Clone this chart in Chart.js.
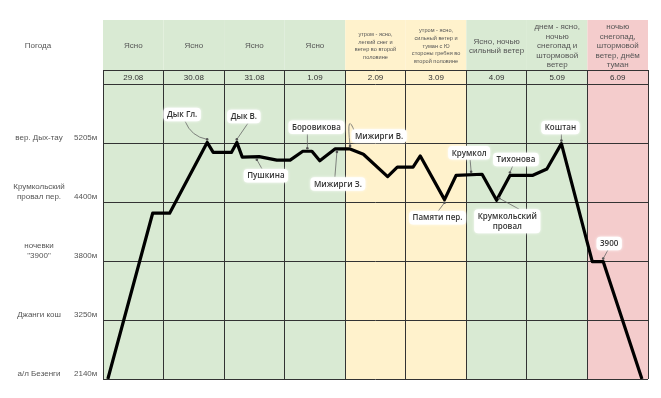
<!DOCTYPE html>
<html lang="ru">
<head>
    <meta charset="UTF-8">
    <title>Маршрут Безенги</title>
    <script src="https://cdn.jsdelivr.net/npm/chart.js"></script>
    <style>
        body { margin: 0; background: #fff; }
        #wrap { width: 661px; height: 398px; }
    </style>
</head>
<body>
    <div id="wrap"><canvas id="routeChart" width="661" height="398"></canvas></div>

    <script>
        // дни похода и погода
        const days = ['29.08', '30.08', '31.08', '1.09', '2.09', '3.09', '4.09', '5.09', '6.09'];
        const weather = [
            'Ясно', 'Ясно', 'Ясно', 'Ясно',
            'утром - ясно,\nлегкий снег и\nветер во второй\nполовине',
            'утром - ясно,\nсильный ветер и\nтуман с Ю\nстороны гребня во\nвторой половине',
            'Ясно, ночью\nсильный ветер',
            'днем - ясно,\nночью\nснегопад и\nштормовой\nветер',
            'ночью\nснегопад,\nштормовой\nветер, днём\nтуман'
        ];
        const weatherType = ['good', 'good', 'good', 'good', 'mid', 'mid', 'good', 'good', 'bad'];

        // уровни высоты (ось Y)
        const levelHeights = ['2140м', '3250м', '3800м', '4400м', '5205м'];
        const levelNames = ['а/л Безенги', 'Джанги кош', 'ночевки\n"3900"', 'Крумкольский\nпровал пер.', 'вер. Дых-тау'];

        // профиль маршрута: день (дробный) и уровень
        const routeDay = [0.08, 0.82, 1.10, 1.72, 1.82, 2.12, 2.21, 2.30, 2.58, 2.87, 3.09, 3.30, 3.45, 3.58,
            3.83, 4.08, 4.30, 4.70, 4.86, 5.12, 5.24, 5.64, 5.83, 6.26, 6.50, 6.72, 7.09, 7.33, 7.57,
            8.08, 8.26, 8.90];
        const routeLevel = [0, 2.81, 2.81, 4.01, 3.84, 3.84, 4.01, 3.76, 3.77, 3.71, 3.71, 3.86, 3.86, 3.70,
            3.90, 3.90, 3.81, 3.43, 3.59, 3.59, 3.78, 3.04, 3.45, 3.47, 3.03, 3.45, 3.45, 3.56, 3.99,
            1.99, 1.99, 0];

        // подписи вершин и перевалов
        const markNames = ['Дык Гл.', 'Дык В.', 'Пушкина', 'Боровикова', 'Мижирги З.', 'Мижирги В.',
            'Памяти пер.', 'Крумкол', 'Крумкольский\nпровал', 'Тихонова', 'Коштан', '3900'];
        const markPoint = [3, 6, 7.86, 11.5, 14.13, 15, 21, 22.58, 24.2, 25, 28, 30];

        // где рисовать подпись относительно точки (px) и откуда тянуть стрелку
        const markLayout = [
            { dx: -25, dy: -28, sx: 3, sy: 7, cx: -16, cy: -6 },
            { dx: 7, dy: -26, sx: 4, sy: 7 },
            { dx: 9, dy: 19, sx: -4, sy: -7 },
            { dx: 9, dy: -24, sx: -9, sy: 7 },
            { dx: 1, dy: 35, sx: -3, sy: -7 },
            { dx: 29, dy: -13, sx: -24, sy: -3, cx: -4, cy: -40 },
            { dx: -7, dy: 18, sx: 1, sy: -7 },
            { dx: -2, dy: -22, sx: 1, sy: 7 },
            { dx: 8, dy: 26, sx: 12, sy: -12 },
            { dx: 6, dy: -16, sx: -3, sy: 6 },
            { dx: -1, dy: -16, sx: 1, sy: 6 },
            { dx: 6, dy: -18, sx: -1, sy: 6 }
        ];

        const bgColors = { good: '#d9ead3', mid: '#fff2cc', bad: '#f4cccc' };
        const headerTop = 20;
        const dateRowTop = 5 + 14 / 59; // верх строки с датами в единицах оси Y

        function multiLine(ctx, text, x, y, lh) {
            const lines = text.split('\n');
            const start = y - (lines.length - 1) * lh / 2;
            lines.forEach((l, i) => ctx.fillText(l, x, start + i * lh));
        }

        // фон колонок, погода, подписи слева
        const tablePlugin = {
            id: 'table',
            beforeDraw(chart) {
                const ctx = chart.ctx;
                const xs = chart.scales.x, ys = chart.scales.y;
                const bottom = ys.getPixelForValue(0);
                ctx.save();
                days.forEach((d, i) => {
                    const x0 = xs.getPixelForValue(i), x1 = xs.getPixelForValue(i + 1);
                    ctx.fillStyle = bgColors[weatherType[i]];
                    ctx.fillRect(x0, headerTop, x1 - x0, bottom - headerTop);
                });

                ctx.textAlign = 'center';
                ctx.textBaseline = 'middle';
                ctx.fillStyle = '#555';
                weather.forEach((w, i) => {
                    const xc = (xs.getPixelForValue(i) + xs.getPixelForValue(i + 1)) / 2;
                    const small = weatherType[i] === 'mid';
                    ctx.font = (small ? '5.6px' : '8px') + ' "Liberation Sans", Arial, sans-serif';
                    multiLine(ctx, w, xc, 46, small ? 7.6 : 9.4);
                });

                ctx.font = '8px "Liberation Sans", Arial, sans-serif';
                ctx.fillStyle = '#555';
                ctx.fillText('Погода', 38, 46);
                levelNames.forEach((n, i) => {
                    const y = ys.getPixelForValue(i) - 5;
                    ctx.textAlign = 'center';
                    multiLine(ctx, n, 39, n.includes('\n') ? y - 5 : y, 10);
                    ctx.textAlign = 'left';
                    ctx.fillText(levelHeights[i], 74, y);
                });
                ctx.restore();
            },
            afterDatasetsDraw(chart) {
                const ctx = chart.ctx;
                const xs = chart.scales.x, ys = chart.scales.y;
                const rowMid = (ys.getPixelForValue(5) + ys.getPixelForValue(dateRowTop)) / 2;
                ctx.save();
                ctx.font = '8px "Liberation Sans", Arial, sans-serif';
                ctx.fillStyle = '#333';
                ctx.textAlign = 'center';
                ctx.textBaseline = 'middle';
                days.forEach((d, i) => {
                    const xc = (xs.getPixelForValue(i) + xs.getPixelForValue(i + 1)) / 2;
                    ctx.fillText(d, xc, rowMid + 0.5);
                });

                // подписи со стрелками
                markNames.forEach((name, i) => {
                    const k = Math.floor(markPoint[i]);
                    const t = markPoint[i] - k;
                    const k2 = Math.min(k + 1, routeDay.length - 1);
                    const d = routeDay[k] + (routeDay[k2] - routeDay[k]) * t;
                    const v = routeLevel[k] + (routeLevel[k2] - routeLevel[k]) * t;
                    const tx = xs.getPixelForValue(d), ty = ys.getPixelForValue(v);
                    const m = markLayout[i];
                    const lx = tx + m.dx, ly = ty + m.dy;
                    const sx = lx + m.sx, sy = ly + m.sy;
                    const tipY = ty - (m.dy < 0 ? 3 : -3);

                    // стрелка
                    ctx.strokeStyle = '#666';
                    ctx.lineWidth = 0.8;
                    ctx.beginPath();
                    ctx.moveTo(sx, sy);
                    if (m.cx !== undefined) {
                        ctx.quadraticCurveTo(tx + m.cx, ty + m.cy, tx, tipY);
                    } else {
                        ctx.lineTo(tx, tipY);
                    }
                    ctx.stroke();
                    ctx.fillStyle = '#555';
                    ctx.beginPath();
                    ctx.arc(tx, tipY, 1.3, 0, Math.PI * 2);
                    ctx.fill();

                    // плашка с текстом
                    ctx.font = '600 8px "Open Sans", sans-serif';
                    const lines = name.split('\n');
                    const w = Math.max(...lines.map(l => ctx.measureText(l).width)) + 7;
                    const h = lines.length * 10.5 + 3;
                    ctx.shadowColor = 'rgba(255,255,255,0.9)';
                    ctx.shadowBlur = 3;
                    ctx.fillStyle = '#fff';
                    ctx.beginPath();
                    ctx.roundRect(lx - w / 2, ly - h / 2, w, h, 4);
                    ctx.fill();
                    ctx.shadowBlur = 0;
                    ctx.fillStyle = '#333';
                    multiLine(ctx, name, lx, ly + 0.5, 10.5);
                });
                ctx.restore();
            }
        };

        const ctx = document.getElementById('routeChart').getContext('2d');
        const chart = new Chart(ctx, {
            type: 'line',
            data: {
                datasets: [{
                    data: routeDay.map((d, i) => ({ x: d, y: routeLevel[i] })),
                    borderColor: '#000',
                    borderWidth: 3.2,
                    pointRadius: 0,
                    tension: 0,
                    borderJoinStyle: 'round'
                }]
            },
            options: {
                responsive: false,
                animation: false,
                layout: { padding: { left: 103, right: 13, top: 70, bottom: 19 } },
                plugins: { legend: { display: false }, tooltip: { enabled: false } },
                scales: {
                    x: {
                        type: 'linear',
                        min: 0,
                        max: days.length,
                        afterBuildTicks: s => { s.ticks = days.map((d, i) => ({ value: i })).concat([{ value: days.length }]); },
                        ticks: { display: false },
                        grid: { color: '#333', lineWidth: 1, drawTicks: false },
                        border: { display: false }
                    },
                    y: {
                        min: 0,
                        max: dateRowTop,
                        afterBuildTicks: s => { s.ticks = [0, 1, 2, 3, 4, 5, dateRowTop].map(v => ({ value: v })); },
                        ticks: { display: false },
                        grid: { color: '#333', lineWidth: 1, drawTicks: false },
                        border: { display: false }
                    }
                }
            },
            plugins: [tablePlugin]
        });
    </script>
</body>
</html>
